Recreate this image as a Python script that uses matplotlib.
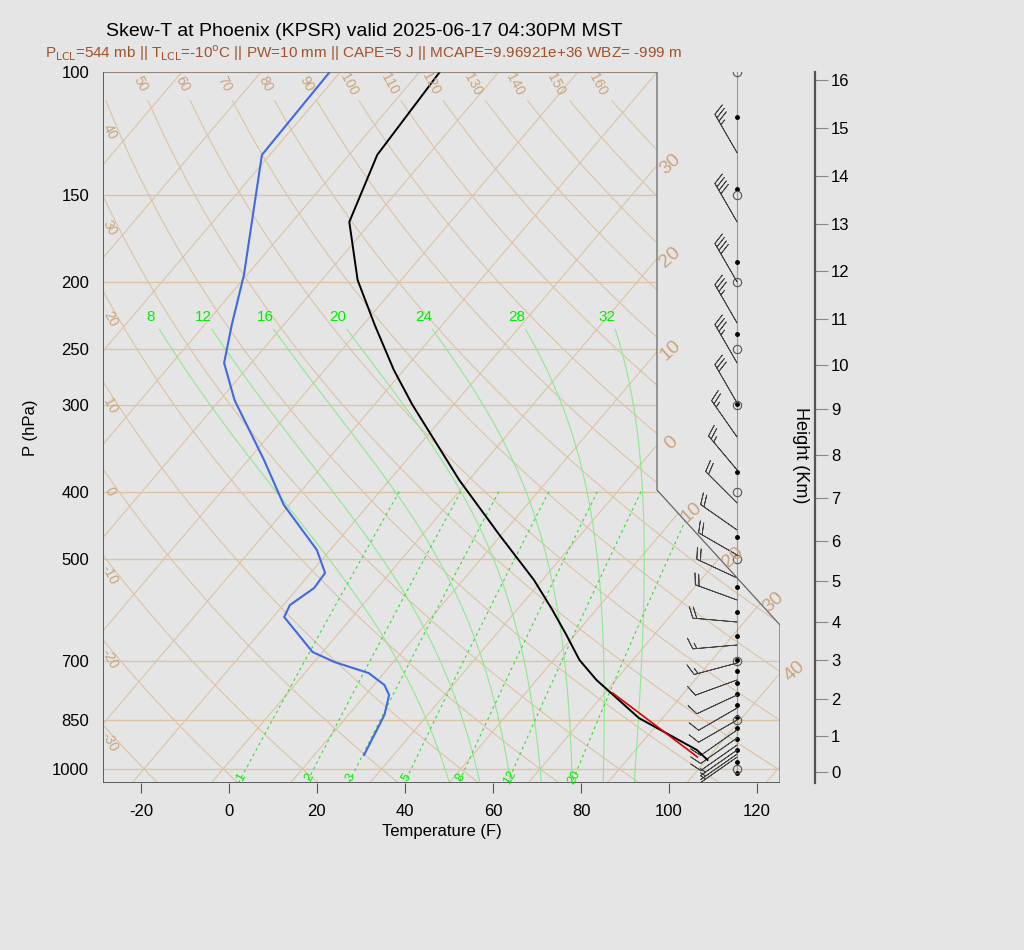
import numpy as np
import matplotlib
matplotlib.use("Agg")
import matplotlib.pyplot as plt
from matplotlib.patches import Polygon
from matplotlib.path import Path
from matplotlib.ticker import NullLocator, FixedLocator, FixedFormatter

plt.rcParams['font.family'] = ['Liberation Sans', 'DejaVu Sans']

# ---------------- data ----------------
temp_p = [100, 131.5, 164.1, 198.8, 230.7, 267.6, 300.4, 384.9, 461.7, 535.6,
          591.5, 642.4, 697.7, 745.2, 845.1, 939.0, 970.7]
temp_F = [-89.4, -87.6, -81.0, -67.9, -55.3, -42.3, -31.3, -6.2, 13.6, 30.1,
          40.1, 48.1, 55.9, 63.6, 80.6, 99.9, 104.3]
dew_p = [100, 131.5, 195.5, 230.7, 261.5, 295.5, 360.3, 418.1, 485.1, 523.4,
         550.0, 581.8, 605.3, 679.4, 702.3, 728.3, 757.7, 783.1, 836.7, 954.8]
dew_F = [-114.4, -113.8, -94.7, -87.8, -82.2, -72.7, -54.4, -41.2, -25.0, -18.7,
         -18.3, -20.5, -19.5, -6.3, 0.6, 10.5, 16.4, 19.4, 22.2, 25.3]
parcel_p = [961, 778]
parcel_F = [101.4, 69.8]

mand_p = [100, 150, 200, 250, 300, 400, 500, 700, 850, 1000]
obs_p = [116.0, 147.2, 187.4, 237.6, 299.4, 374.8, 464.8, 548.2, 595.4, 644.7,
         697.9, 723.8, 752.9, 780.6, 809.5, 842.2, 873.4, 905.7, 939.2, 977.2, 1013.2]

barb_p = [130.6, 164.1, 200.1, 229.2, 261.5, 298.5, 334.0, 372.4, 415.3, 454.1,
          493.2, 532.1, 572.2, 615.4, 663.9, 704.6, 745.2, 783.1, 817.6, 850.6,
          879.0, 902.6, 923.9, 939.2, 951.8, 961.3]
barb_dir = [330, 330, 330, 330, 330, 330, 325, 320, 315, 305,
            300, 295, 290, 275, 265, 255, 250, 245, 240, 240,
            235, 235, 235, 235, 235, 235]
barb_spd = [35, 40, 40, 35, 35, 30, 25, 25, 20, 20,
            20, 20, 20, 20, 15, 15, 10, 10, 10, 10,
            10, 10, 10, 5, 5, 5]

height_km = list(range(17))
height_p = [1010, 896.6, 793.6, 697.9, 615.4, 537.5, 470.9, 408.6, 354.4, 304.4,
            263.3, 226.2, 193.0, 165.2, 141.0, 120.3, 102.7]

isotherms_C = list(range(-150, 60, 10))
dry_theta_C = list(range(-30, 170, 10))
moist_thetaw_C = [8, 12, 16, 20, 24, 28, 32]
mix_ratio = [1, 2, 3, 5, 8, 12, 20]
xticks_F = [-20, 0, 20, 40, 60, 80, 100, 120]

SKEW = 134.6
P0 = 1047.4
PTOP = 100.0

def c2f(c):
    return np.asarray(c) * 9 / 5 + 32

def sx(TF, p):
    return np.asarray(TF) + SKEW * np.log10(P0 / np.asarray(p))

BG = '#e5e5e5'
TAN = '#dcc3a3'
TANL = '#c9a47c'
fig = plt.figure(figsize=(10.24, 9.5), dpi=100, facecolor=BG)
ax = fig.add_axes([103/1024, 1-783/950, 677/1024, 711/950])
ax.set_facecolor(BG)
ax.set_yscale('log')
ax.set_ylim(P0, PTOP)
ax.set_xlim(-28.6, 125.2)
for s in ax.spines.values():
    s.set_visible(False)

poly = [(0, 1), (554/677, 1), (554/677, 1-418/711), (1, 1-553/711), (1, 0), (0, 0)]
clip = Polygon(poly, closed=True, transform=ax.transAxes, facecolor='none',
               edgecolor='#666666', lw=0.9, zorder=6)
ax.add_patch(clip)
ax.plot([0, 0], [0, 1], transform=ax.transAxes, color='#555555', lw=1.2, zorder=7)
ax.plot([0, 1], [0, 0], transform=ax.transAxes, color='#555555', lw=1.2, zorder=7)

def cplot(x, y, **kw):
    ln, = ax.plot(x, y, **kw)
    ln.set_clip_path(clip)
    return ln

# pressure lines
for p in mand_p:
    cplot([-100, 300], [p, p], color=TAN, lw=1.0, zorder=1)

pp = np.logspace(np.log10(PTOP), np.log10(P0), 300)
# isotherms
for tc in isotherms_C:
    cplot(sx(c2f(tc), pp), pp, color=TAN, lw=0.8, zorder=1)

# isotherm labels at exit of clip polygon
polypath = Path(poly)
to_ax = ax.transAxes.inverted()
iso_lab = {-30: '30', -20: '20', -10: '10', 0: '0', 10: '10', 20: '20', 30: '30', 40: '40'}
fig.canvas.draw()
for tc, txt in iso_lab.items():
    pts = np.column_stack([sx(c2f(tc), pp), pp])[::-1]
    disp = ax.transData.transform(pts)
    axc = to_ax.transform(disp)
    inside = polypath.contains_points(axc)
    idx = None
    for i in range(1, len(inside)):
        if inside[i-1] and not inside[i] and 0 <= axc[i][1] <= 1:
            idx = i
            break
    if idx is None:
        continue
    ax.annotate(txt, xy=pts[idx], xytext=(9, 0), textcoords='offset points',
                ha='center', va='center', rotation=42, color=TANL, fontsize=14,
                zorder=8, annotation_clip=False)

# dry adiabats
pd = np.logspace(np.log10(110), np.log10(P0), 100)
pdl = np.logspace(np.log10(95), np.log10(P0), 200)
for th in dry_theta_C:
    T = (th + 273.15) * (pd / 1000.0) ** 0.2857 - 273.15
    cplot(sx(c2f(T), pd), pd, color=TAN, lw=0.8, zorder=1)
    if th >= 50:
        pl = 104
        Tl = (th + 273.15) * (pl / 1000.0) ** 0.2857 - 273.15
        ax.text(sx(c2f(Tl), pl), pl, str(th), rotation=-62, ha='center', va='center',
                color=TANL, fontsize=10, zorder=8)
    else:
        xl = -25.0
        Tl = (th + 273.15) * (pdl / 1000.0) ** 0.2857 - 273.15
        xs = sx(c2f(Tl), pdl)
        if xs.min() < xl < xs.max():
            pl = np.interp(xl, xs, pdl)
            ax.text(-27.0, pl, str(th), rotation=-62, ha='center', va='center',
                    color=TANL, fontsize=10, zorder=8)

# moist adiabats
def es(tc):
    return 6.112 * np.exp(17.67 * tc / (tc + 243.5))

def moist(thw, pend):
    Rd, cp, Lv, eps = 287.04, 1005.7, 2.501e6, 0.622
    p = 1000.0
    T = thw + 273.15
    ps, Ts = [p], [T]
    dp = -2.0 if pend < 1000 else 2.0
    while (p > pend if dp < 0 else p < pend):
        e = es(T - 273.15)
        rs = eps * e / (p - e)
        dTdp = (Rd * T + Lv * rs) / (p * (cp + Lv**2 * rs * eps / (Rd * T**2)))
        T += dTdp * dp
        p += dp
        ps.append(p)
        Ts.append(T)
    return np.array(ps), np.array(Ts) - 273.15

for thw in moist_thetaw_C:
    p1, t1 = moist(thw, 234)
    p2, t2 = moist(thw, P0)
    p = np.concatenate([p2[::-1], p1])
    t = np.concatenate([t2[::-1], t1])
    cplot(sx(c2f(t), p), p, color='#8fe88f', lw=0.8, zorder=2)
    ax.text(sx(c2f(t1[-1]), p1[-1]) - 2.0, 225, str(thw), color='#00ee00', fontsize=11,
            ha='center', va='center', zorder=8)

# mixing ratio lines
pm = np.logspace(np.log10(400), np.log10(P0), 60)
for w in mix_ratio:
    e = pm * w / (622.0 + w)
    le = np.log(e / 6.112)
    td = 243.5 * le / (17.67 - le)
    cplot(sx(c2f(td), pm), pm, color='#33dd33', lw=0.8, ls=(0, (2.5, 3)), zorder=2)
    pl = 1030
    el = pl * w / (622.0 + w)
    lel = np.log(el / 6.112)
    tdl = 243.5 * lel / (17.67 - lel)
    ax.text(sx(c2f(tdl), pl), pl, str(w), color='#00ee00', fontsize=9, rotation=60,
            ha='center', va='center', zorder=8)

# profiles
cplot(sx(temp_F, temp_p), temp_p, color='black', lw=1.4, zorder=5)
cplot(sx(dew_F, dew_p), dew_p, color='#4169e1', lw=1.5, zorder=5)
cplot(sx(parcel_F, parcel_p), parcel_p, color='#dd0000', lw=1.2, zorder=5)

# wind column
XW = (737 - 229) / 4.4
ax.plot([XW, XW], [100, 1013], color='#999999', lw=0.8, zorder=3)
ax.plot([XW] * len(obs_p), obs_p, 'o', color='black', ms=2.5, zorder=4)
ax.plot([XW] * len(mand_p), mand_p, 'o', mfc='none', mec='#555555', ms=6, mew=0.8, zorder=4)
d = np.deg2rad(barb_dir)
u = -np.array(barb_spd) * np.sin(d)
v = -np.array(barb_spd) * np.cos(d)
ax.barbs([XW] * len(barb_p), barb_p, u, v, length=8, color='#444444', lw=0.6,
         sizes=dict(spacing=0.09, height=0.25, width=0.2), zorder=4, clip_on=False)

# axes ticks
ax.yaxis.set_minor_locator(NullLocator())
ax.yaxis.set_major_locator(FixedLocator(mand_p))
ax.yaxis.set_major_formatter(FixedFormatter([str(p) for p in mand_p]))
ax.tick_params(axis='y', length=0, pad=10, labelsize=12)
ax.set_xticks(xticks_F)
ax.set_xticklabels([str(t) for t in xticks_F])
ax.tick_params(axis='x', length=7, width=0.8, color='#555555', pad=8, labelsize=12, direction='out')
ax.set_xlabel('Temperature (F)', fontsize=12, labelpad=4)
ax.set_ylabel('P (hPa)', fontsize=12, labelpad=10)

# height axis
ax2 = fig.add_axes([814/1024, 1-783/950, 0.0005, 711/950])
ax2.set_facecolor('none')
ax2.set_yscale('log')
ax2.set_ylim(P0, PTOP)
for k, s in ax2.spines.items():
    s.set_visible(k == 'right')
ax2.spines['right'].set_color('#555555')
ax2.spines['right'].set_linewidth(1.6)
ax2.set_xticks([])
ax2.yaxis.set_minor_locator(NullLocator())
ax2.yaxis.tick_right()
ax2.yaxis.set_major_locator(FixedLocator(height_p))
ax2.yaxis.set_major_formatter(FixedFormatter([str(h) for h in height_km]))
ax2.tick_params(axis='y', length=9, color='#888888', labelsize=12, pad=3)
fig.text(800/1024, 1-455/950, 'Height (Km)', rotation=-90, fontsize=13,
         ha='center', va='center')

fig.text(106/1024, 1-32/950, 'Skew-T at Phoenix (KPSR) valid 2025-06-17 04:30PM MST',
         fontsize=14, ha='left', va='center')
fig.text(45/1024, 1-53/950,
         r'P$_{\rm LCL}$=544 mb || T$_{\rm LCL}$=-10$^{\rm o}$C || PW=10 mm || CAPE=5 J || MCAPE=9.96921e+36 WBZ= -999 m',
         fontsize=11, ha='left', va='center', color='#a0522d')

fig.savefig('out.png', dpi=100, facecolor=BG)
